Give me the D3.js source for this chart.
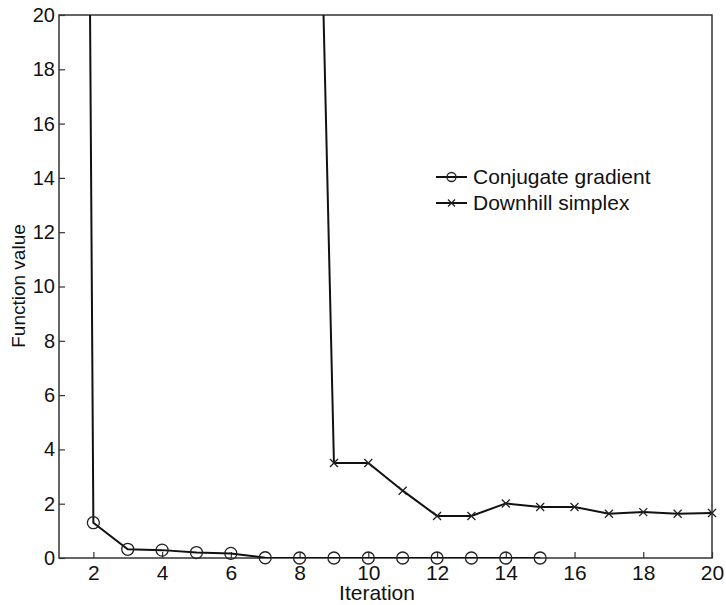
<!DOCTYPE html>
<html>
<head>
<meta charset="utf-8">
<script src="https://cdn.jsdelivr.net/npm/d3@7"></script>
<style>
  body { margin: 0; background: #fff; }
  text { font-family: "Liberation Sans", Arial, sans-serif; fill: #111; }
</style>
</head>
<body>
<div id="chart"></div>
<script>
// values
var cgIter = [1, 2, 3, 4, 5, 6, 7, 8, 9, 10, 11, 12, 13, 14, 15];
var cgValue = [195, 1.3, 0.32, 0.29, 0.2, 0.17, 0.01, 0, 0, 0, 0, 0, 0, 0, 0];

var dsIter = [8, 9, 10, 11, 12, 13, 14, 15, 16, 17, 18, 19, 20];
var dsValue = [58, 3.5, 3.5, 2.48, 1.55, 1.55, 2.01, 1.88, 1.88, 1.63, 1.69, 1.63, 1.66];

var xTicks = [2, 4, 6, 8, 10, 12, 14, 16, 18, 20];
var yTicks = [0, 2, 4, 6, 8, 10, 12, 14, 16, 18, 20];

var seriesNames = ['Conjugate gradient', 'Downhill simplex'];

var width = 726;
var height = 605;
// plot box edges
var boxLeft = 59, boxRight = 712, boxTop = 15, boxBottom = 558;

var x = d3.scaleLinear().domain([1, 20]).range([boxLeft, boxRight]);
var y = d3.scaleLinear().domain([0, 20]).range([boxBottom, boxTop]);

var svg = d3.select('#chart')
  .append('svg')
  .attr('width', width)
  .attr('height', height);

svg.append('defs').append('clipPath')
  .attr('id', 'plotclip')
  .append('rect')
  .attr('x', boxLeft).attr('y', boxTop)
  .attr('width', boxRight - boxLeft).attr('height', boxBottom - boxTop);

// frame
svg.append('rect')
  .attr('x', boxLeft).attr('y', boxTop)
  .attr('width', boxRight - boxLeft).attr('height', boxBottom - boxTop)
  .attr('fill', 'none')
  .attr('stroke', '#333')
  .attr('stroke-width', 1.5);

// axes, ticks pointing inward
var xAxis = svg.append('g')
  .attr('transform', 'translate(0,' + boxBottom + ')')
  .call(d3.axisBottom(x).tickValues(xTicks).tickSizeInner(-6).tickSizeOuter(0).tickPadding(7));
xAxis.select('.domain').remove();
xAxis.selectAll('line').attr('stroke', '#333').attr('stroke-width', 1.2);
xAxis.selectAll('text')
  .style('font-family', '"Liberation Sans", Arial, sans-serif')
  .style('font-size', '21px')
  .attr('fill', '#111');

var yAxis = svg.append('g')
  .attr('transform', 'translate(' + boxLeft + ',0)')
  .call(d3.axisLeft(y).tickValues(yTicks).tickSizeInner(-6).tickSizeOuter(0).tickPadding(4));
yAxis.select('.domain').remove();
yAxis.selectAll('line').attr('stroke', '#333').attr('stroke-width', 1.2);
yAxis.selectAll('text')
  .style('font-family', '"Liberation Sans", Arial, sans-serif')
  .style('font-size', '20px')
  .attr('fill', '#111');

// axis titles
svg.append('text')
  .attr('x', 377)
  .attr('y', 600)
  .attr('text-anchor', 'middle')
  .style('font-size', '21px')
  .text('Iteration');

svg.append('text')
  .attr('transform', 'translate(25,' + 286 + ') rotate(-90)')
  .attr('text-anchor', 'middle')
  .style('font-size', '19px')
  .text('Function value');

var line = d3.line()
  .x(function(d) { return x(d[0]); })
  .y(function(d) { return y(d[1]); });

var cgData = d3.zip(cgIter, cgValue);
var dsData = d3.zip(dsIter, dsValue);

var plot = svg.append('g').attr('clip-path', 'url(#plotclip)');

plot.append('path')
  .datum(cgData)
  .attr('d', line)
  .attr('fill', 'none')
  .attr('stroke', '#111')
  .attr('stroke-width', 2);

plot.append('path')
  .datum(dsData)
  .attr('d', line)
  .attr('fill', 'none')
  .attr('stroke', '#111')
  .attr('stroke-width', 2);

// markers (only the ones inside the y range)
svg.append('g')
  .selectAll('circle')
  .data(cgData.filter(function(d) { return d[1] <= 20; }))
  .enter().append('circle')
    .attr('cx', function(d) { return x(d[0]); })
    .attr('cy', function(d) { return y(d[1]); })
    .attr('r', 6)
    .attr('fill', 'none')
    .attr('stroke', '#222')
    .attr('stroke-width', 1.3);

svg.append('g')
  .selectAll('path')
  .data(dsData.filter(function(d) { return d[1] <= 20; }))
  .enter().append('path')
    .attr('transform', function(d) { return 'translate(' + x(d[0]) + ',' + y(d[1]) + ')'; })
    .attr('d', 'M-4,-4L4,4M-4,4L4,-4')
    .attr('fill', 'none')
    .attr('stroke', '#222')
    .attr('stroke-width', 1.3);

// legend
var legend = svg.append('g');
var legendY = [177, 203];

legend.selectAll('line')
  .data(seriesNames)
  .enter().append('line')
    .attr('x1', 436).attr('x2', 467)
    .attr('y1', function(d, i) { return legendY[i]; })
    .attr('y2', function(d, i) { return legendY[i]; })
    .attr('stroke', '#111')
    .attr('stroke-width', 2);

legend.append('circle')
  .attr('cx', 451.5).attr('cy', legendY[0])
  .attr('r', 4.5)
  .attr('fill', 'none')
  .attr('stroke', '#222')
  .attr('stroke-width', 1.3);

legend.append('path')
  .attr('transform', 'translate(451.5,' + legendY[1] + ')')
  .attr('d', 'M-3.5,-3.5L3.5,3.5M-3.5,3.5L3.5,-3.5')
  .attr('stroke', '#222')
  .attr('stroke-width', 1.3);

legend.selectAll('text')
  .data(seriesNames)
  .enter().append('text')
    .attr('x', 473)
    .attr('y', function(d, i) { return legendY[i] + 7; })
    .style('font-size', '21px')
    .text(function(d) { return d; });
</script>
</body>
</html>
